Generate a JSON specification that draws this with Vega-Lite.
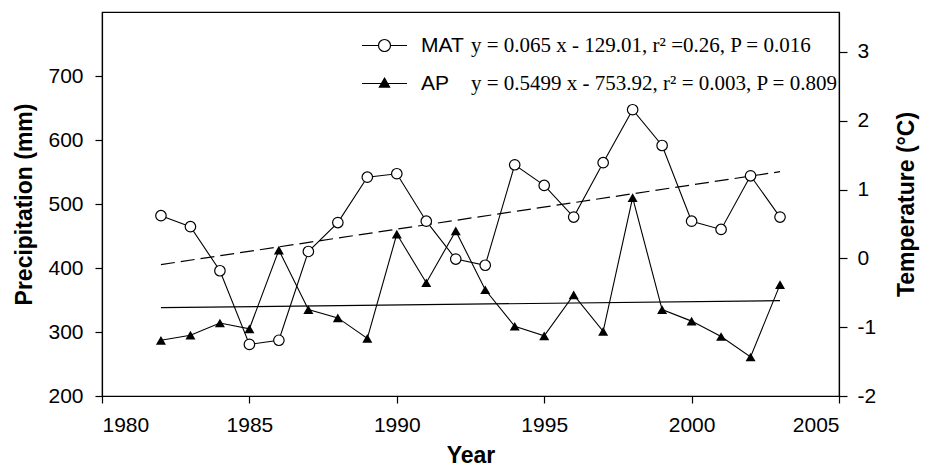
{
  "$schema": "https://vega.github.io/schema/vega-lite/v6.json",
  "width": 737,
  "height": 384,
  "autosize": {"type": "none"},
  "padding": {"left": 102, "top": 12, "right": 88, "bottom": 71},
  "background": "white",
  "config": {
    "font": "Liberation Sans",
    "view": {"stroke": "black", "strokeWidth": 1.2},
    "axis": {
      "grid": false,
      "domainColor": "black",
      "domainWidth": 1.2,
      "tickColor": "black",
      "tickWidth": 1.2,
      "tickSize": 7,
      "labelFont": "Liberation Sans",
      "labelFontSize": 21,
      "labelColor": "black",
      "titleFont": "Liberation Sans",
      "titleFontSize": 23,
      "titleFontWeight": "bold",
      "titleColor": "black"
    },
    "legend": {
      "orient": "none",
      "title": null,
      "padding": 0,
      "labelColor": "black",
      "rowPadding": 16,
      "labelLimit": 600
    }
  },
  "datasets": {
    "obs": [
      {"year": 1982, "AP": 287, "MAT": 0.62},
      {"year": 1983, "AP": 295, "MAT": 0.46},
      {"year": 1984, "AP": 314, "MAT": -0.18},
      {"year": 1985, "AP": 305, "MAT": -1.25},
      {"year": 1986, "AP": 428, "MAT": -1.19},
      {"year": 1987, "AP": 335, "MAT": 0.1},
      {"year": 1988, "AP": 322, "MAT": 0.52},
      {"year": 1989, "AP": 290, "MAT": 1.18},
      {"year": 1990, "AP": 453, "MAT": 1.23},
      {"year": 1991, "AP": 377, "MAT": 0.54},
      {"year": 1992, "AP": 458, "MAT": -0.01},
      {"year": 1993, "AP": 366, "MAT": -0.1},
      {"year": 1994, "AP": 309, "MAT": 1.36},
      {"year": 1995, "AP": 294, "MAT": 1.06},
      {"year": 1996, "AP": 358, "MAT": 0.6},
      {"year": 1997, "AP": 301, "MAT": 1.39},
      {"year": 1998, "AP": 510, "MAT": 2.16},
      {"year": 1999, "AP": 335, "MAT": 1.64},
      {"year": 2000, "AP": 317, "MAT": 0.54},
      {"year": 2001, "AP": 293, "MAT": 0.42},
      {"year": 2002, "AP": 261, "MAT": 1.2},
      {"year": 2003, "AP": 374, "MAT": 0.6}
    ],
    "trend": [
      {"year": 1982, "AP": 338, "MAT": -0.09},
      {"year": 2003, "AP": 349, "MAT": 1.26}
    ],
    "series": [
      {"series": "MAT", "eq": "y = 0.065 x - 129.01, r² =0.26, P = 0.016"},
      {"series": "AP", "eq": "y = 0.5499 x - 753.92, r² = 0.003, P = 0.809"}
    ]
  },
  "encoding": {
    "x": {
      "field": "year",
      "type": "quantitative",
      "scale": {"domain": [1980, 2005], "zero": false, "nice": false},
      "axis": {
        "values": [1980, 1985, 1990, 1995, 2000, 2005],
        "format": "d",
        "title": "Year",
        "labelPadding": 11,
        "titlePadding": 9
      }
    }
  },
  "layer": [
    {
      "encoding": {
        "y": {
          "field": "AP",
          "type": "quantitative",
          "scale": {"domain": [200, 800], "zero": false, "nice": false},
          "axis": {
            "orient": "left",
            "values": [200, 300, 400, 500, 600, 700],
            "title": "Precipitation (mm)",
            "labelPadding": 12,
            "titlePadding": 11
          }
        }
      },
      "layer": [
        {
          "data": {"name": "trend"},
          "mark": {"type": "line", "color": "black", "strokeWidth": 1.2}
        },
        {
          "data": {"name": "obs"},
          "mark": {"type": "line", "color": "black", "strokeWidth": 1.1}
        },
        {
          "data": {"name": "obs"},
          "mark": {"type": "point", "shape": "triangle-up", "filled": true, "color": "black", "size": 100, "opacity": 1}
        }
      ]
    },
    {
      "encoding": {
        "y": {
          "field": "MAT",
          "type": "quantitative",
          "scale": {"domain": [-2, 3.58], "zero": false, "nice": false},
          "axis": {
            "orient": "right",
            "values": [-2, -1, 0, 1, 2, 3],
            "labelExpr": "datum.value < 0 ? '-' + (-datum.value) : '' + datum.value",
            "title": "Temperature (°C)",
            "tickSize": 8,
            "labelPadding": 10,
            "titleAngle": 270,
            "titlePadding": 43
          }
        }
      },
      "layer": [
        {
          "data": {"name": "trend"},
          "mark": {"type": "line", "color": "black", "strokeWidth": 1.2, "strokeDash": [14, 6]}
        },
        {
          "data": {"name": "obs"},
          "mark": {"type": "line", "color": "black", "strokeWidth": 1.1}
        },
        {
          "data": {"name": "obs"},
          "mark": {"type": "point", "shape": "circle", "filled": false, "fill": "white", "stroke": "black", "strokeWidth": 1.2, "size": 110, "opacity": 1}
        },
        {
          "data": {"name": "series"},
          "transform": [{"filter": "false"}],
          "mark": {"type": "point", "strokeWidth": 1.2, "opacity": 1},
          "encoding": {
            "x": {"value": 0},
            "y": {"value": 0},
            "shape": {
              "field": "series",
              "type": "nominal",
              "scale": {
                "domain": ["MAT", "AP"],
                "range": [
                  "M-3.75,0L-1,0M1,0L3.75,0M-1,0A1,1,0,1,0,1,0A1,1,0,1,0,-1,0Z",
                  "M-3.75,0L3.75,0M0,-0.9L0.85,0.6L-0.85,0.6Z"
                ]
              },
              "legend": {
                "legendX": 272,
                "legendY": 23,
                "labelFont": "Liberation Sans",
                "labelFontSize": 21,
                "labelOffset": 26,
                "symbolSize": 144,
                "symbolStrokeWidth": 1.2
              }
            },
            "fill": {
              "field": "series",
              "type": "nominal",
              "scale": {"domain": ["MAT", "AP"], "range": ["white", "black"]}
            },
            "stroke": {
              "field": "series",
              "type": "nominal",
              "scale": {"domain": ["MAT", "AP"], "range": ["black", "black"]}
            },
            "strokeDash": {
              "field": "eq",
              "type": "nominal",
              "scale": {
                "domain": ["y = 0.065 x - 129.01, r² =0.26, P = 0.016", "y = 0.5499 x - 753.92, r² = 0.003, P = 0.809"],
                "range": [[1, 0], [2, 0]]
              },
              "legend": {
                "legendX": 348,
                "legendY": 23,
                "labelFont": "Liberation Serif",
                "labelFontSize": 21,
                "labelOffset": 0,
                "symbolSize": 0,
                "symbolOpacity": 0
              }
            }
          }
        }
      ]
    }
  ],
  "resolve": {"scale": {"y": "independent"}}
}
